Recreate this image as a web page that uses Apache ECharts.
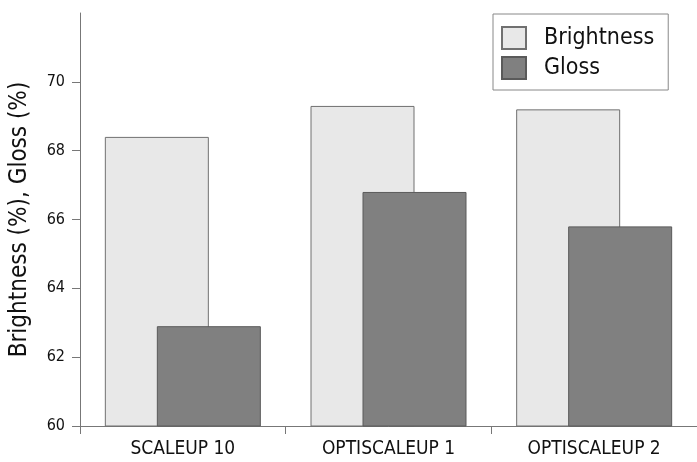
<!DOCTYPE html>
<html>
<head>
<meta charset="utf-8">
<script src="https://cdn.jsdelivr.net/npm/echarts@6/dist/echarts.min.js"></script>
<style>
html,body{margin:0;padding:0;background:#fff;}
#chart{width:697px;height:462px;}
</style>
</head>
<body>
<div id="chart"></div>
<script>
var categories = ['SCALEUP 10', 'OPTISCALEUP 1', 'OPTISCALEUP 2'];
var brightness = [68.4, 69.3, 69.2];
var gloss = [62.9, 66.8, 65.8];
var yTicks = [60, 62, 64, 66, 68, 70];

var FONT = '"DejaVu Sans Condensed", "DejaVu Sans", sans-serif';
var chart = echarts.init(document.getElementById('chart'), null, {renderer: 'canvas'});
chart.setOption({
  animation: false,
  backgroundColor: '#ffffff',
  textStyle: {fontFamily: FONT, color: '#111'},
  grid: {left: 78.5, top: 13, width: 623, height: 413, containLabel: false},
  legend: {
    orient: 'vertical',
    left: 493, top: 14,
    padding: [12, 14, 10, 8],
    borderColor: '#888', borderWidth: 1, backgroundColor: '#fff',
    itemWidth: 24, itemHeight: 22, itemGap: 6,
    icon: 'rect',
    textStyle: {fontFamily: FONT, fontSize: 23, color: '#111', padding: [0, 0, 0, 13]},
    data: ['Brightness', 'Gloss']
  },
  xAxis: {
    type: 'category',
    data: categories,
    axisLine: {lineStyle: {color: '#777', width: 1}},
    axisTick: {show: true, length: 8, alignWithLabel: false, lineStyle: {color: '#777'}},
    axisLabel: {fontFamily: FONT, fontSize: 19, color: '#111', margin: 14}
  },
  yAxis: {
    type: 'value',
    min: 60, max: 72, interval: 2,
    name: 'Brightness (%), Gloss (%)',
    nameLocation: 'middle',
    nameGap: 48,
    nameTextStyle: {fontFamily: FONT, fontSize: 24, color: '#111'},
    splitLine: {show: false},
    axisLine: {show: true, lineStyle: {color: '#777', width: 1}},
    axisTick: {show: true, length: 8, customValues: yTicks, lineStyle: {color: '#777'}},
    axisLabel: {fontFamily: FONT, fontSize: 16, color: '#111', margin: 15, customValues: yTicks}
  },
  series: [
    {
      name: 'Brightness', type: 'bar', data: brightness,
      barWidth: 104, barGap: '-50%',
      itemStyle: {color: '#e8e8e8', borderColor: '#707070', borderWidth: 1}
    },
    {
      name: 'Gloss', type: 'bar', data: gloss,
      barWidth: 104,
      itemStyle: {color: '#808080', borderColor: '#5a5a5a', borderWidth: 1}
    }
  ]
});
</script>
</body>
</html>
